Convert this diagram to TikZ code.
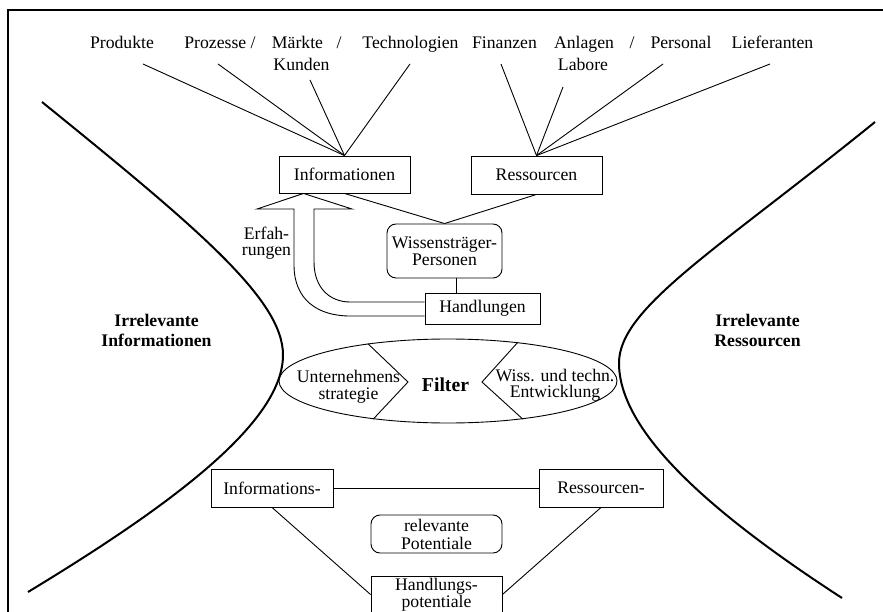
\documentclass[tikz,border=0pt]{standalone}
\usepackage{fontspec}
\setmainfont{Liberation Serif}
\usetikzlibrary{positioning,shapes.geometric}

\begin{document}
\begin{tikzpicture}[x=1pt,y=-1pt,font=\fontsize{17.7}{19}\selectfont,
	link/.style={line width=0.9pt},
	rand/.style={line width=2pt},
	box/.style={draw, link, inner sep=0pt, align=center},
	rbox/.style={box, rounded corners=9pt},
	lbl/.style={inner sep=0pt, anchor=base},
	mlbl/.style={inner sep=0pt, align=center}]
	\useasboundingbox (0,0) rectangle (883,612);
	\clip (0,0) rectangle (883,612);

	\draw[rand] (883,10) -- (8,10) -- (8,612);

	\node[lbl] (produkte) at (122,49) {Produkte};
	\node[lbl] (prozesse) at (220,49) {Prozesse /};
	\node[lbl] (maerkte) at (297.5,49) {Märkte};
	\node[lbl] (strich1) at (339,49) {/};
	\node[lbl] (techno) at (410.5,49) {Technologien};
	\node[lbl] (kunden) at (301.5,71) {Kunden};
	\node[lbl] (finanzen) at (504.5,49) {Finanzen};
	\node[lbl] (anlagen) at (584,49) {Anlagen};
	\node[lbl] (strich2) at (632,49) {/};
	\node[lbl] (personal) at (681,49) {Personal};
	\node[lbl] (liefer) at (772.5,49) {Lieferanten};
	\node[lbl] (labore) at (583,71) {Labore};

	\node[box, minimum width=131, minimum height=37] (inf) at (344.5,174.5) {Informationen};
	\node[box, minimum width=131, minimum height=38] (res) at (536.5,175) {Ressourcen};
	\node[rbox, minimum width=115, minimum height=54, font=\fontsize{17.7}{17}\selectfont] (wiss) at (444.5,251) {Wissensträger-\\Personen};
	\node[box, minimum width=115, minimum height=31] (hand) at (482.5,308.5) {Handlungen};

	\coordinate (i1) at (143,64);
	\coordinate (i2) at (218,64);
	\coordinate (i3) at (310,80);
	\coordinate (i4) at (410,64);
	\coordinate (r1) at (501,64);
	\coordinate (r2) at (563,87);
	\coordinate (r3) at (663,64);
	\coordinate (r4) at (770,64);
	\foreach \p in {i1,i2,i3,i4}
		\draw[link] (\p) -- (inf.north);
	\foreach \p in {r1,r2,r3,r4}
		\draw[link] (\p) -- (res.north);

	\draw[link] (inf.south) -- (wiss.north);
	\draw[link] (res.south) -- (wiss.north);
	\draw[link] ([xshift=11.5pt]wiss.south) -- ([xshift=11.5pt]wiss.south |- hand.north);

	\draw[link, line join=miter] ([yshift=-7.5pt]hand.west) -- (350,316)
		.. controls (318,316) and (294,300) .. (294,265) -- (294,209) -- (257,209)
		-- ([xshift=-41pt]inf.south) -- (352,209) -- (314,209) -- (314,262)
		.. controls (314,288) and (330,302) .. (350,302) -- ([yshift=6.5pt]hand.west);
	\node[mlbl, font=\fontsize{17.7}{16.5}\selectfont] (erf) at (266.5,243) {Erfah-\\rungen};

	\draw[rand] (42,102) .. controls (200,230) and (283,300) .. (283,355)
		.. controls (283,420) and (180,500) .. (28,592);
	\draw[rand] (875,122) .. controls (717,250) and (619,308) .. (619,363)
		.. controls (619,428) and (700,506) .. (842,598);
	\node[mlbl, font=\bfseries\fontsize{17.7}{20}\selectfont] (irrinf) at (156.5,330) {Irrelevante\\Informationen};
	\node[mlbl, font=\bfseries\fontsize{17.7}{20}\selectfont] (irrres) at (757.5,330) {Irrelevante\\Ressourcen};

	\node[draw, link, ellipse, minimum width=338, minimum height=84, inner sep=0pt] (filter) at (448,381) {};
	\coordinate (kl) at (408,382);
	\coordinate (kr) at (482,382);
	\draw[link] (filter.155) -- (kl) -- (filter.207);
	\draw[link] (filter.29) -- (kr) -- (filter.333);
	\node[lbl, font=\bfseries\fontsize{19.7}{21}\selectfont] (filtxt) at (445.5,391) {Filter};
	\node[mlbl, font=\fontsize{17.7}{16.5}\selectfont] (strat) at (348.5,387) {Unternehmens\\strategie};
	\node[mlbl, font=\fontsize{17.7}{16.5}\selectfont] (entw) at (555,385.5) {Wiss. und techn.\\Entwicklung};

	\node[box, minimum width=122, minimum height=38] (infpot) at (272,488) {Informations-};
	\node[box, minimum width=124, minimum height=38] (respot) at (601,488) {Ressourcen-};
	\node[rbox, minimum width=131, minimum height=38, font=\fontsize{17.7}{18}\selectfont] (relpot) at (436.5,534) {relevante\\Potentiale};
	\node[box, minimum width=131, minimum height=37, font=\fontsize{17.7}{17}\selectfont] (handpot) at (436.5,594.5) {Handlungs-\\potentiale};

	\draw[link] (infpot) -- (respot);
	\draw[link] (infpot.south) -- (handpot.west);
	\draw[link] (respot.south) -- (handpot.east);
\end{tikzpicture}
\end{document}
